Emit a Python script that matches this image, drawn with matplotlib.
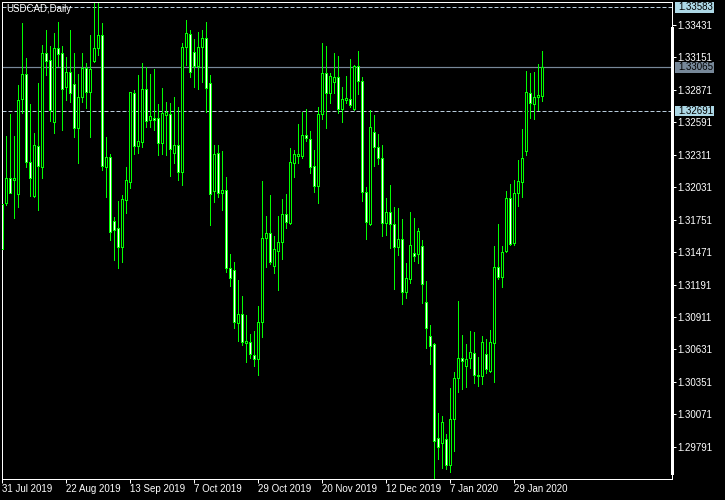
import matplotlib
matplotlib.use("Agg")
import matplotlib.pyplot as plt
from matplotlib.patches import Rectangle
from matplotlib.lines import Line2D
from matplotlib import transforms

# ---------------- data (USDCAD daily) ----------------
opens = [1.3189, 1.31892, 1.32108, 1.32093, 1.31970, 1.32790, 1.33008, 1.32246, 1.31958, 1.32387,
         1.32208, 1.33192, 1.33129, 1.32597, 1.33230, 1.33192, 1.32893, 1.33028, 1.32922, 1.32539,
         1.32813, 1.33063, 1.32856, 1.33121, 1.33230, 1.33345, 1.32208, 1.32289, 1.31740, 1.31676,
         1.31518, 1.31921, 1.32079, 1.32841, 1.32390, 1.32424, 1.32876, 1.32611, 1.32631, 1.32631,
         1.32410, 1.32654, 1.32663, 1.32324, 1.32396, 1.32165, 1.33238, 1.33351, 1.33201, 1.33077,
         1.33238, 1.33316, 1.32928, 1.32001, 1.32324, 1.31984, 1.32007, 1.31337, 1.31317, 1.30862,
         1.30937, 1.30689, 1.30692, 1.30583, 1.30546, 1.30865, 1.31590, 1.31633, 1.31354, 1.31483,
         1.31555, 1.31797, 1.31725, 1.32243, 1.32303, 1.32301, 1.32482, 1.32444, 1.32214, 1.32044,
         1.32660, 1.33014, 1.32841, 1.32942, 1.32980, 1.32709, 1.32784, 1.32795, 1.32703, 1.33077,
         1.32948, 1.31987, 1.31714, 1.32505, 1.32381, 1.32280, 1.31719, 1.31820, 1.31711, 1.31518,
         1.31581, 1.31124, 1.31239, 1.31466, 1.31452, 1.31524, 1.31038, 1.30747, 1.30678, 1.29864,
         1.29821, 1.29855, 1.29634, 1.30031, 1.30382, 1.30554, 1.30491, 1.30554, 1.30597, 1.30410,
         1.30405, 1.30589, 1.30445, 1.30684, 1.31340, 1.31253, 1.31483, 1.31935, 1.31547, 1.31978,
         1.32079, 1.32347, 1.32841, 1.32749, 1.32807, 1.32821]
highs = [1.3195, 1.32473, 1.32663, 1.32473, 1.32913, 1.33451, 1.33144, 1.32749, 1.32496, 1.32928,
         1.33259, 1.33388, 1.33250, 1.33365, 1.33454, 1.33250, 1.33158, 1.33388, 1.33187, 1.33008,
         1.33187, 1.33100, 1.33345, 1.33618, 1.33633, 1.33446, 1.32467, 1.32318, 1.31777, 1.31912,
         1.31964, 1.32208, 1.32856, 1.32870, 1.33000, 1.33100, 1.33072, 1.33008, 1.33051, 1.32749,
         1.32885, 1.32770, 1.32755, 1.32813, 1.32726, 1.33273, 1.33474, 1.33388, 1.33308, 1.33368,
         1.33388, 1.33454, 1.33000, 1.32396, 1.32396, 1.32344, 1.32119, 1.31455, 1.31389, 1.31230,
         1.31092, 1.30928, 1.30764, 1.30790, 1.31006, 1.32085, 1.31783, 1.31964, 1.31611, 1.31783,
         1.31929, 1.31973, 1.32367, 1.32352, 1.32577, 1.32683, 1.32706, 1.32516, 1.32352, 1.32721,
         1.33279, 1.33250, 1.33014, 1.33192, 1.33167, 1.32899, 1.32991, 1.33135, 1.33086, 1.33207,
         1.32985, 1.32030, 1.32698, 1.32654, 1.32490, 1.32396, 1.31935, 1.32050, 1.31863, 1.31849,
         1.31757, 1.31380, 1.31820, 1.31763, 1.31676, 1.31576, 1.31222, 1.30842, 1.30689, 1.30085,
         1.30057, 1.29901, 1.30301, 1.30433, 1.31049, 1.30756, 1.30678, 1.30790, 1.30779, 1.30569,
         1.30750, 1.30718, 1.30799, 1.31527, 1.31711, 1.31524, 1.31998, 1.32059, 1.32093, 1.32266,
         1.32531, 1.33037, 1.33020, 1.33028, 1.33095, 1.33210]
lows = [1.3146, 1.3188, 1.3198, 1.31763, 1.31863, 1.32669, 1.32208, 1.31958, 1.31950, 1.31834,
        1.32108, 1.33000, 1.32606, 1.32502, 1.33080, 1.32525, 1.32784, 1.32770, 1.32462, 1.32243,
        1.32770, 1.32712, 1.32467, 1.33115, 1.33172, 1.32180, 1.31950, 1.31576, 1.31403, 1.31331,
        1.31389, 1.31806, 1.32021, 1.32318, 1.32329, 1.32381, 1.32554, 1.32554, 1.32525, 1.32309,
        1.32318, 1.32309, 1.32131, 1.32237, 1.32093, 1.32050, 1.33086, 1.32985, 1.32899, 1.32876,
        1.32942, 1.32683, 1.31705, 1.31906, 1.31950, 1.31834, 1.31302, 1.31181, 1.30819, 1.30707,
        1.30669, 1.30525, 1.30554, 1.30488, 1.30410, 1.30741, 1.31345, 1.31368, 1.31294, 1.31144,
        1.31412, 1.31676, 1.31714, 1.32122, 1.32237, 1.32286, 1.32433, 1.32157, 1.31993, 1.31898,
        1.32617, 1.32539, 1.32761, 1.32847, 1.32675, 1.32597, 1.32755, 1.32726, 1.32698, 1.32833,
        1.31915, 1.31581, 1.31705, 1.32214, 1.32231, 1.31613, 1.31619, 1.31504, 1.31150, 1.31446,
        1.31020, 1.31072, 1.31202, 1.31394, 1.31374, 1.31029, 1.30641, 1.30502, 1.29519, 1.29683,
        1.29605, 1.29596, 1.29570, 1.29757, 1.30261, 1.30287, 1.30310, 1.30468, 1.30344, 1.30318,
        1.30330, 1.30425, 1.30439, 1.30353, 1.31236, 1.31173, 1.31475, 1.31532, 1.31532, 1.31872,
        1.31950, 1.32309, 1.32631, 1.32620, 1.32698, 1.32778]
closes = [1.3150, 1.32108, 1.31984, 1.32113, 1.32784, 1.33008, 1.32252, 1.32108, 1.32396, 1.32217,
          1.33192, 1.33123, 1.32698, 1.33230, 1.33178, 1.32876, 1.33028, 1.32841, 1.32539, 1.32813,
          1.33057, 1.32856, 1.33051, 1.33230, 1.33345, 1.32217, 1.32295, 1.31642, 1.31662, 1.31518,
          1.31927, 1.32093, 1.32850, 1.32390, 1.32430, 1.32876, 1.32606, 1.32646, 1.32611, 1.32410,
          1.32669, 1.32683, 1.32358, 1.32396, 1.32165, 1.33238, 1.33359, 1.33023, 1.33077, 1.33238,
          1.33316, 1.32885, 1.31970, 1.32315, 1.31984, 1.32007, 1.31337, 1.31245, 1.30871, 1.30937,
          1.30698, 1.30707, 1.30589, 1.30546, 1.30865, 1.31590, 1.31633, 1.31383, 1.31498, 1.31555,
          1.31797, 1.31734, 1.32252, 1.32315, 1.32318, 1.32482, 1.32453, 1.32208, 1.32044, 1.32660,
          1.33014, 1.32841, 1.32991, 1.32980, 1.32709, 1.32795, 1.32804, 1.32738, 1.33080, 1.32948,
          1.31987, 1.31728, 1.32548, 1.32381, 1.32286, 1.31719, 1.31814, 1.31711, 1.31518, 1.31581,
          1.31130, 1.31245, 1.31532, 1.31440, 1.31653, 1.31193, 1.30813, 1.30664, 1.29841, 1.29786,
          1.30002, 1.29634, 1.30031, 1.30382, 1.30554, 1.30531, 1.30546, 1.30606, 1.30410, 1.30405,
          1.30692, 1.30462, 1.30692, 1.31340, 1.31259, 1.31469, 1.31935, 1.31541, 1.31978, 1.32085,
          1.32280, 1.32850, 1.32755, 1.32807, 1.32827, 1.33066]

date_labels = ["31 Jul 2019", "22 Aug 2019", "13 Sep 2019", "7 Oct 2019", "29 Oct 2019",
               "20 Nov 2019", "12 Dec 2019", "7 Jan 2020", "29 Jan 2020"]
date_bars = [0, 16, 32, 48, 64, 80, 96, 112, 128]
price_ticks = [1.33431, 1.33151, 1.32871, 1.32591, 1.32311, 1.32031, 1.31751, 1.31471,
               1.31191, 1.30911, 1.30631, 1.30351, 1.30071, 1.29791]
level_high = 1.33583
level_low = 1.32691
bid = 1.33065
symbol_title = "USDCAD,Daily"

# ---------------- style ----------------
W, H = 725, 500
PX = 72.0 / 100  # one pixel in points
GREEN = "#00FF00"
FONT = "Liberation Sans"
FS = 7

fig = plt.figure(figsize=(W / 100, H / 100), dpi=100, facecolor="black")
left, right, top, bottom = 2.3, 672.0, 2.3, 479.0
ax = fig.add_axes([left / W, 1 - bottom / H, (right - left) / W, (bottom - top) / H])
ax.set_facecolor("black")

n = len(opens)
ax.set_xlim(-0.02, (right - left) / 4.0)
ax.set_ylim(1.29513, 1.33627)

# reference lines
ax.axhline(bid, color="#778899", lw=PX * 1.2, zorder=0)
for lv in (level_high, level_low):
    ax.axhline(level_high if lv == level_high else level_low, color="#B8CCDC", lw=PX,
               dashes=(4, 2), zorder=0)

# candles
xs = list(range(n))
ax.vlines(xs, lows, highs, colors=GREEN, linewidth=PX, antialiased=False, zorder=2)
for i in range(n):
    o, c = opens[i], closes[i]
    lo, hi = min(o, c), max(o, c)
    fc = "black" if c >= o else "white"
    ax.add_patch(Rectangle((i - 0.25, lo), 0.5, max(hi - lo, 1e-6), facecolor=fc,
                           edgecolor=GREEN, linewidth=PX, antialiased=False, zorder=3))

# spines
for s in ax.spines.values():
    s.set_color("white")
    s.set_linewidth(PX)
fig.add_artist(Line2D([672 / W, 672 / W], [1 - 28 / H, 1 - 473 / H], lw=3 * PX,
                      color="white", transform=fig.transFigure))

# ticks
ax.yaxis.tick_right()
ax.set_yticks(price_ticks)
ax.set_yticklabels([f"{p:.5f}" for p in price_ticks])
ax.set_xticks(date_bars)
ax.set_xticklabels(date_labels)
ax.tick_params(axis="both", colors="white", length=3.7 * PX, width=PX, direction="out",
               labelsize=FS)
ax.tick_params(axis="y", pad=2.0 * PX)
ax.tick_params(axis="x", pad=1.5 * PX)
for lab in ax.get_xticklabels():
    lab.set_ha("left")
    lab.set_family(FONT)
for lab in ax.get_yticklabels():
    lab.set_family(FONT)

# price label boxes
bt = transforms.blended_transform_factory(fig.transFigure, ax.transData)
pxu = (1.33627 - 1.29513) / (bottom - top)
for val, fc in ((level_high, "#ADD8E6"), (bid, "#778899"), (level_low, "#ADD8E6")):
    h = 10.5 * pxu
    ax.add_patch(Rectangle((675 / W, val - h / 2), 39 / W, h, transform=bt,
                           facecolor=fc, edgecolor="none", clip_on=False, zorder=5))
    ax.text(678 / W, val, f"{val:.5f}", transform=bt, color="black", fontsize=FS,
            family=FONT, va="center", ha="left", clip_on=False, zorder=6)

fig.text(6.5 / W, 1 - 9.5 / H, symbol_title, color="white", fontsize=FS, family=FONT,
         va="center", ha="left")

fig.savefig("out.png", dpi=100, facecolor="black")
